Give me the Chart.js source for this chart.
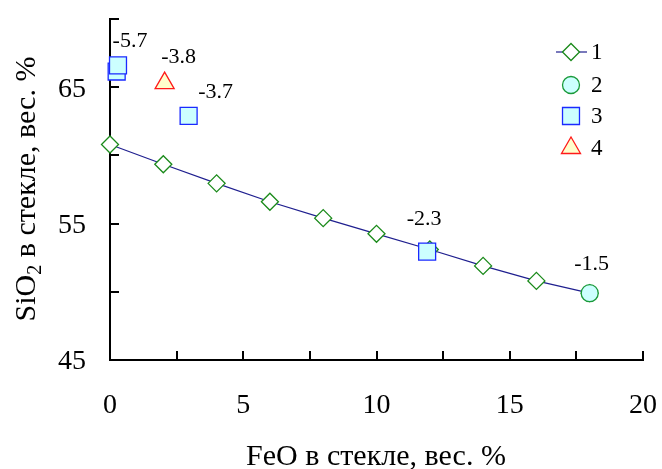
<!DOCTYPE html>
<html>
<head>
<meta charset="utf-8">
<script src="https://cdn.jsdelivr.net/npm/chart.js@4"></script>
<style>
  html, body { margin: 0; padding: 0; background: #fff; }
  canvas { display: block; }
</style>
</head>
<body>
<canvas id="chart" width="662" height="469"></canvas>
<script>
// trend line (1)
const feoTrend = [0, 2, 4, 6, 8, 10, 12, 14, 16, 18];
const sio2Trend = [60.8, 59.35, 57.95, 56.6, 55.4, 54.25, 53.1, 51.9, 50.8, 49.9];
// glass 2
const feoCircle = [18];
const sio2Circle = [49.9];
const circleNotes = ['-1.5'];
// glass 3
const feoSquare = [0.25, 0.3, 2.95, 11.9];
const sio2Square = [66.15, 66.6, 62.9, 52.95];
const squareNotes = ['', '-5.7', '-3.7', '-2.3'];
// glass 4
const feoTriangle = [2.05];
const sio2Triangle = [65.3];
const triangleNotes = ['-3.8'];

const legendNames = ['1', '2', '3', '4'];
const xLabeled = [0, 5, 10, 15, 20];
const yLabeled = [45, 55, 65];

const SERIF = '"Liberation Serif", "Times New Roman", serif';

function toPoints(xs, ys) {
  return xs.map((x, i) => ({x: x, y: ys[i]}));
}

// where each note sits relative to its point (dx, dy to baseline centre)
const circleOffsets = [[2, -23]];
const squareOffsets = [[0, 0], [12, -18], [27, -18], [-3, -27]];
const triangleOffsets = [[14, -20]];

const notesPlugin = {
  id: 'notes',
  afterDatasetsDraw(chart) {
    const ctx = chart.ctx;
    ctx.save();
    ctx.fillStyle = '#000';
    ctx.font = '22px ' + SERIF;
    ctx.textAlign = 'center';
    ctx.textBaseline = 'alphabetic';
    const groups = [[1, circleNotes, circleOffsets], [2, squareNotes, squareOffsets], [3, triangleNotes, triangleOffsets]];
    groups.forEach(([di, notes, offs]) => {
      const meta = chart.getDatasetMeta(di);
      notes.forEach((t, i) => {
        if (!t) return;
        const el = meta.data[i];
        ctx.fillText(t, el.x + offs[i][0], el.y + offs[i][1]);
      });
    });
    ctx.restore();
  }
};

// inward tick marks, tick labels, axis titles and the legend box
const framePlugin = {
  id: 'frame',
  beforeDatasetsDraw(chart) {
    const ctx = chart.ctx;
    const xs = chart.scales.x, ys = chart.scales.y;
    const area = chart.chartArea;
    ctx.save();
    ctx.strokeStyle = '#000';
    ctx.lineWidth = 2;
    ctx.beginPath();
    for (let v = xs.min; v <= xs.max + 1e-9; v += 2.5) {
      const px = Math.round(xs.getPixelForValue(v));
      ctx.moveTo(px, area.bottom);
      ctx.lineTo(px, area.bottom - 9);
    }
    for (let v = ys.min; v <= ys.max + 1e-9; v += 5) {
      const py = Math.round(ys.getPixelForValue(v));
      ctx.moveTo(area.left, py);
      ctx.lineTo(area.left + 9, py);
    }
    ctx.stroke();

    ctx.fillStyle = '#000';
    ctx.font = '28px ' + SERIF;
    ctx.textBaseline = 'middle';
    ctx.textAlign = 'center';
    xLabeled.forEach(v => ctx.fillText(String(v), xs.getPixelForValue(v), area.bottom + 46));
    ctx.textAlign = 'right';
    yLabeled.forEach(v => ctx.fillText(String(v), area.left - 24, ys.getPixelForValue(v) + 2));
    ctx.restore();
  },
  afterDraw(chart) {
    const ctx = chart.ctx;
    ctx.save();
    ctx.fillStyle = '#000';

    // x title
    ctx.font = '30px ' + SERIF;
    ctx.textAlign = 'center';
    ctx.textBaseline = 'alphabetic';
    ctx.fillText('FeO в стекле, вес. %', 376, 465);

    // y title with subscript
    ctx.translate(35, 189);
    ctx.rotate(-Math.PI / 2);
    const big = '30px ' + SERIF, small = '20px ' + SERIF;
    const parts = [['SiO', big, 0], ['2', small, 6], [' в стекле, вес. %', big, 0]];
    let total = 0;
    parts.forEach(p => { ctx.font = p[1]; total += ctx.measureText(p[0]).width; });
    let cx = -total / 2;
    ctx.textAlign = 'left';
    parts.forEach(p => {
      ctx.font = p[1];
      ctx.fillText(p[0], cx, p[2]);
      cx += ctx.measureText(p[0]).width;
    });
    ctx.restore();

    // legend
    ctx.save();
    const rows = [52, 85, 116, 148];
    const mx = 571;
    chart.data.datasets.forEach((ds, i) => {
      const y = rows[i];
      if (ds.showLine) {
        ctx.strokeStyle = ds.borderColor;
        ctx.lineWidth = ds.borderWidth;
        ctx.beginPath();
        ctx.moveTo(556, y);
        ctx.lineTo(587, y);
        ctx.stroke();
      }
      ctx.fillStyle = ds.pointBackgroundColor;
      ctx.strokeStyle = ds.pointBorderColor;
      ctx.lineWidth = ds.pointBorderWidth;
      Chart.helpers.drawPoint(ctx, {
        pointStyle: ds.pointStyle,
        radius: ds.pointRadius,
        borderWidth: ds.pointBorderWidth,
        rotation: 0
      }, mx, y);
      ctx.fillStyle = '#000';
      ctx.font = '23px ' + SERIF;
      ctx.textAlign = 'left';
      ctx.textBaseline = 'middle';
      ctx.fillText(legendNames[i], 591, y + 1);
    });
    ctx.restore();
  }
};

new Chart(document.getElementById('chart'), {
  type: 'scatter',
  data: {
    datasets: [{
      data: toPoints(feoTrend, sio2Trend),
      showLine: true,
      borderColor: '#1f1f8f',
      borderWidth: 1.2,
      pointStyle: 'rectRot',
      pointRadius: 8.5,
      pointBorderWidth: 1.3,
      pointBackgroundColor: '#ffffff',
      pointBorderColor: '#1a8a1a',
      order: 4
    }, {
      data: toPoints(feoCircle, sio2Circle),
      pointStyle: 'circle',
      pointRadius: 8.5,
      pointBorderWidth: 1.3,
      pointBackgroundColor: '#ccffff',
      pointBorderColor: '#1a9a3a',
      order: 3
    }, {
      data: toPoints(feoSquare, sio2Square),
      pointStyle: 'rect',
      pointRadius: 12,
      pointBorderWidth: 1.3,
      pointBackgroundColor: '#ccffff',
      pointBorderColor: '#1a2aff',
      order: 2
    }, {
      data: toPoints(feoTriangle, sio2Triangle),
      pointStyle: 'triangle',
      pointRadius: 11,
      pointBorderWidth: 1.3,
      pointBackgroundColor: '#ffffcc',
      pointBorderColor: '#ff1a1a',
      order: 1
    }]
  },
  options: {
    responsive: false,
    animation: false,
    clip: false,
    layout: { padding: { top: 19, right: 19, left: 0, bottom: 0 } },
    plugins: {
      legend: { display: false },
      tooltip: { enabled: false }
    },
    scales: {
      x: {
        type: 'linear',
        min: 0,
        max: 20,
        afterFit: s => { s.height = 109; },
        grid: { display: false, drawTicks: false },
        border: { display: true, color: '#000', width: 2 },
        ticks: { display: false, stepSize: 2.5 }
      },
      y: {
        type: 'linear',
        min: 45,
        max: 70,
        afterFit: s => { s.width = 110; },
        grid: { display: false, drawTicks: false },
        border: { display: true, color: '#000', width: 2 },
        ticks: { display: false, stepSize: 5 }
      }
    }
  },
  plugins: [framePlugin, notesPlugin]
});
</script>
</body>
</html>
